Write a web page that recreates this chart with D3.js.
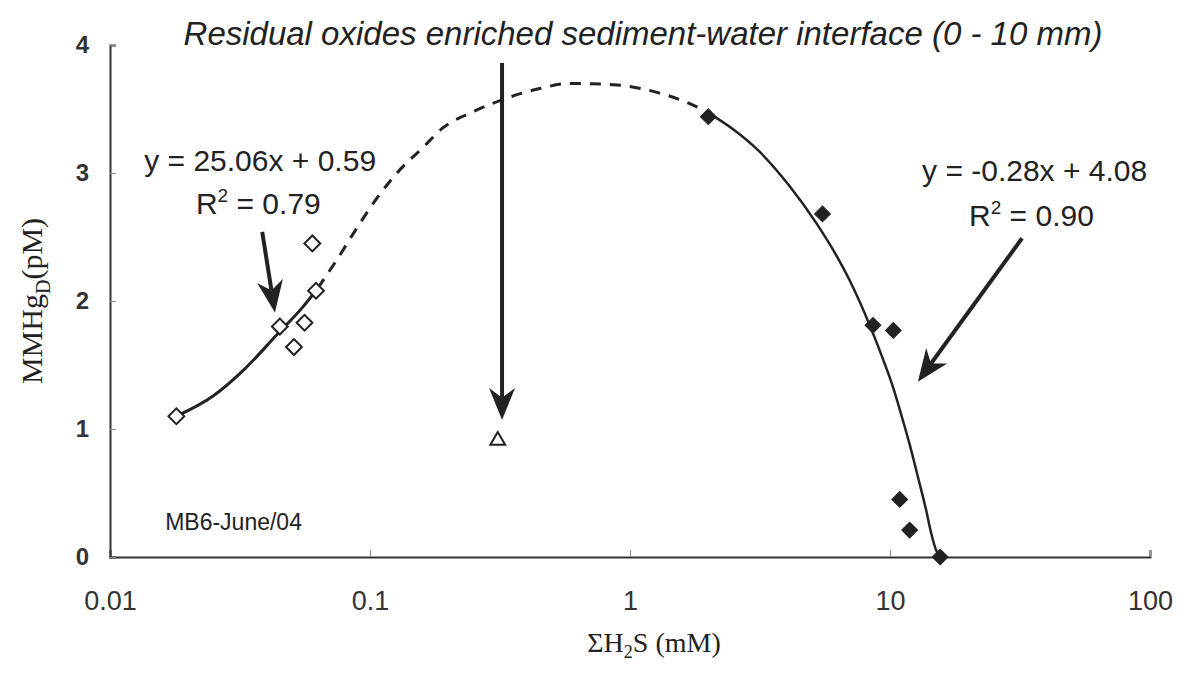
<!DOCTYPE html>
<html>
<head>
<meta charset="utf-8">
<script src="https://cdn.jsdelivr.net/npm/d3@7"></script>
<style>
  body { margin: 0; background: #fff; }
  svg { display: block; }
</style>
</head>
<body>
<div id="chart"></div>
<script>
// low H2S points (open diamonds)
const openX = [0.018, 0.045, 0.051, 0.056, 0.060, 0.062];
const openY = [1.10, 1.80, 1.64, 1.83, 2.45, 2.08];
// surface sample (open triangle)
const triX = [0.31];
const triY = [0.91];
// high H2S points (filled diamonds)
const fillX = [2.0, 5.5, 8.6, 10.3, 10.9, 11.9, 15.6];
const fillY = [3.44, 2.68, 1.81, 1.77, 0.45, 0.21, 0.0];
// trend curves
const fitLeftX = [0.018, 0.025, 0.033, 0.044, 0.055, 0.063];
const fitLeftY = [1.10, 1.26, 1.47, 1.74, 1.95, 2.10];
const dashX = [0.063, 0.075, 0.089, 0.106, 0.127, 0.16, 0.19, 0.25, 0.32, 0.45, 0.59, 0.86, 1.27, 1.75, 2.0];
const dashY = [2.10, 2.33, 2.57, 2.80, 3.00, 3.20, 3.35, 3.48, 3.57, 3.66, 3.70, 3.69, 3.63, 3.53, 3.47];
const fitRightX = [2.0, 2.5, 3.1, 4.1, 5.2, 6.2, 7.0, 8.4, 9.5, 10.3, 11.2, 11.9, 12.9, 13.9, 14.2, 15.0, 15.5];
const fitRightY = [3.47, 3.34, 3.18, 2.90, 2.61, 2.36, 2.16, 1.80, 1.52, 1.32, 1.07, 0.88, 0.60, 0.33, 0.24, 0.06, 0.0];
// tick labels
const xTicks = [0.01, 0.1, 1, 10, 100];
const xTickLabels = ["0.01", "0.1", "1", "10", "100"];
const yTicks = [0, 1, 2, 3, 4];

const W = 1188, H = 673;
const margin = { top: 45, right: 38, bottom: 116, left: 110 };
const width = W - margin.left - margin.right;
const height = H - margin.top - margin.bottom;

const svg = d3.select("#chart").append("svg")
  .attr("width", W).attr("height", H)
  .style("font-family", "Arial, 'Liberation Sans', sans-serif");

const g = svg.append("g").attr("transform", `translate(${margin.left},${margin.top})`);

const x = d3.scaleLog().domain([0.01, 100]).range([0, width]);
const y = d3.scaleLinear().domain([0, 4]).range([height, 0]);

// axes
const axisColor = "#333";
g.append("g")
  .attr("transform", `translate(0,${height})`)
  .call(d3.axisBottom(x).tickValues(xTicks).tickSize(-7).tickFormat((d, i) => xTickLabels[i]))
  .call(a => a.select(".domain").attr("stroke", axisColor).attr("stroke-width", 2))
  .call(a => a.selectAll(".tick line").attr("stroke", "#888").attr("stroke-width", 1))
  .call(a => a.selectAll("text").attr("fill", "#333").attr("font-size", 27).attr("dy", null).attr("y", 53));

g.append("g")
  .call(d3.axisLeft(y).tickValues(yTicks).tickSize(-6).tickFormat(d3.format("d")))
  .call(a => a.select(".domain").attr("stroke", axisColor).attr("stroke-width", 2))
  .call(a => a.selectAll(".tick line").attr("stroke", "#888").attr("stroke-width", 1))
  .call(a => a.selectAll("text").attr("fill", "#333").attr("font-size", 24)
    .attr("font-weight", "bold").attr("x", -21));

// curves
const line = d3.line().x(d => x(d[0])).y(d => y(d[1])).curve(d3.curveMonotoneX);
const zip = (a, b) => a.map((v, i) => [v, b[i]]);

g.append("path").datum(zip(fitLeftX, fitLeftY))
  .attr("d", line).attr("fill", "none").attr("stroke", "#222").attr("stroke-width", 3);
g.append("path").datum(zip(dashX, dashY))
  .attr("d", line).attr("fill", "none").attr("stroke", "#222").attr("stroke-width", 3)
  .attr("stroke-dasharray", "11,9");
g.append("path").datum(zip(fitRightX, fitRightY))
  .attr("d", line).attr("fill", "none").attr("stroke", "#222").attr("stroke-width", 2.5);

// markers
const diamond = d3.symbol().type(d3.symbolSquare).size(125);
g.selectAll(".open").data(zip(openX, openY)).join("path")
  .attr("class", "open")
  .attr("d", diamond)
  .attr("transform", d => `translate(${x(d[0])},${y(d[1])}) rotate(45)`)
  .attr("fill", "#fff").attr("stroke", "#222").attr("stroke-width", 2);

g.selectAll(".filled").data(zip(fillX, fillY)).join("path")
  .attr("class", "filled")
  .attr("d", diamond)
  .attr("transform", d => `translate(${x(d[0])},${y(d[1])}) rotate(45)`)
  .attr("fill", "#222").attr("stroke", "#222").attr("stroke-width", 1);

g.selectAll(".tri").data(zip(triX, triY)).join("path")
  .attr("class", "tri")
  .attr("d", d3.symbol().type(d3.symbolTriangle).size(95))
  .attr("transform", d => `translate(${x(d[0])},${y(d[1])})`)
  .attr("fill", "#fff").attr("stroke", "#222").attr("stroke-width", 2);

// arrows (data coordinates)
const arrows = [
  { from: [0.0385, 2.54], to: [0.0431, 1.91] },
  { from: [0.322, 3.86], to: [0.322, 1.07] },
  { from: [32.2, 2.49], to: [12.8, 1.37] }
];
arrows.forEach(a => {
  const x1 = x(a.from[0]), y1 = y(a.from[1]), x2 = x(a.to[0]), y2 = y(a.to[1]);
  const ang = Math.atan2(y2 - y1, x2 - x1);
  const len = 32, half = 13;
  const bx = x2 - len * Math.cos(ang), by = y2 - len * Math.sin(ang);
  const nx = -Math.sin(ang), ny = Math.cos(ang);
  const mx = x2 - len * 0.7 * Math.cos(ang), my = y2 - len * 0.7 * Math.sin(ang);
  g.append("line").attr("x1", x1).attr("y1", y1).attr("x2", mx).attr("y2", my)
    .attr("stroke", "#222").attr("stroke-width", 4);
  g.append("path")
    .attr("d", `M${x2},${y2}L${bx + nx * half},${by + ny * half}L${mx},${my}L${bx - nx * half},${by - ny * half}Z`)
    .attr("fill", "#222");
});

// annotations
const ann = g.append("g").attr("fill", "#222").attr("font-size", 30).attr("text-anchor", "middle");
ann.append("text").attr("x", x(0.0378)).attr("y", y(3.016)).text("y = 25.06x + 0.59");
const r1 = ann.append("text").attr("x", x(0.0372)).attr("y", y(2.68));
r1.append("tspan").text("R");
r1.append("tspan").attr("font-size", 19).attr("dy", -12).text("2");
r1.append("tspan").attr("dy", 12).text(" = 0.79");

ann.append("text").attr("x", x(36)).attr("y", y(2.94)).text("y = -0.28x + 4.08");
const r2 = ann.append("text").attr("x", x(35)).attr("y", y(2.586));
r2.append("tspan").text("R");
r2.append("tspan").attr("font-size", 19).attr("dy", -12).text("2");
r2.append("tspan").attr("dy", 12).text(" = 0.90");

g.append("text").attr("x", x(0.0163)).attr("y", y(0.21))
  .attr("font-size", 23).attr("fill", "#222").text("MB6-June/04");

svg.append("text").attr("x", 643).attr("y", 45)
  .attr("text-anchor", "middle").attr("font-size", 33).attr("font-style", "italic").attr("fill", "#222")
  .text("Residual oxides enriched sediment-water interface (0 - 10 mm)");

// axis titles
const xt = svg.append("text").attr("x", margin.left + x(1) + 24).attr("y", 652)
  .attr("text-anchor", "middle").attr("font-family", "'Liberation Serif', 'Times New Roman', serif")
  .attr("font-size", 28).attr("fill", "#222");
xt.append("tspan").text("ΣH");
xt.append("tspan").attr("font-size", 18).attr("dy", 6).text("2");
xt.append("tspan").attr("dy", -6).text("S (mM)");

const yt = svg.append("text").attr("transform", `translate(42,${margin.top + y(2)}) rotate(-90)`)
  .attr("text-anchor", "middle").attr("font-family", "'Liberation Serif', 'Times New Roman', serif")
  .attr("font-size", 30).attr("fill", "#222");
yt.append("tspan").text("MMHg");
yt.append("tspan").attr("font-size", 20).attr("dy", 8).text("D");
yt.append("tspan").attr("dy", -8).text("(pM)");
</script>
</body>
</html>
